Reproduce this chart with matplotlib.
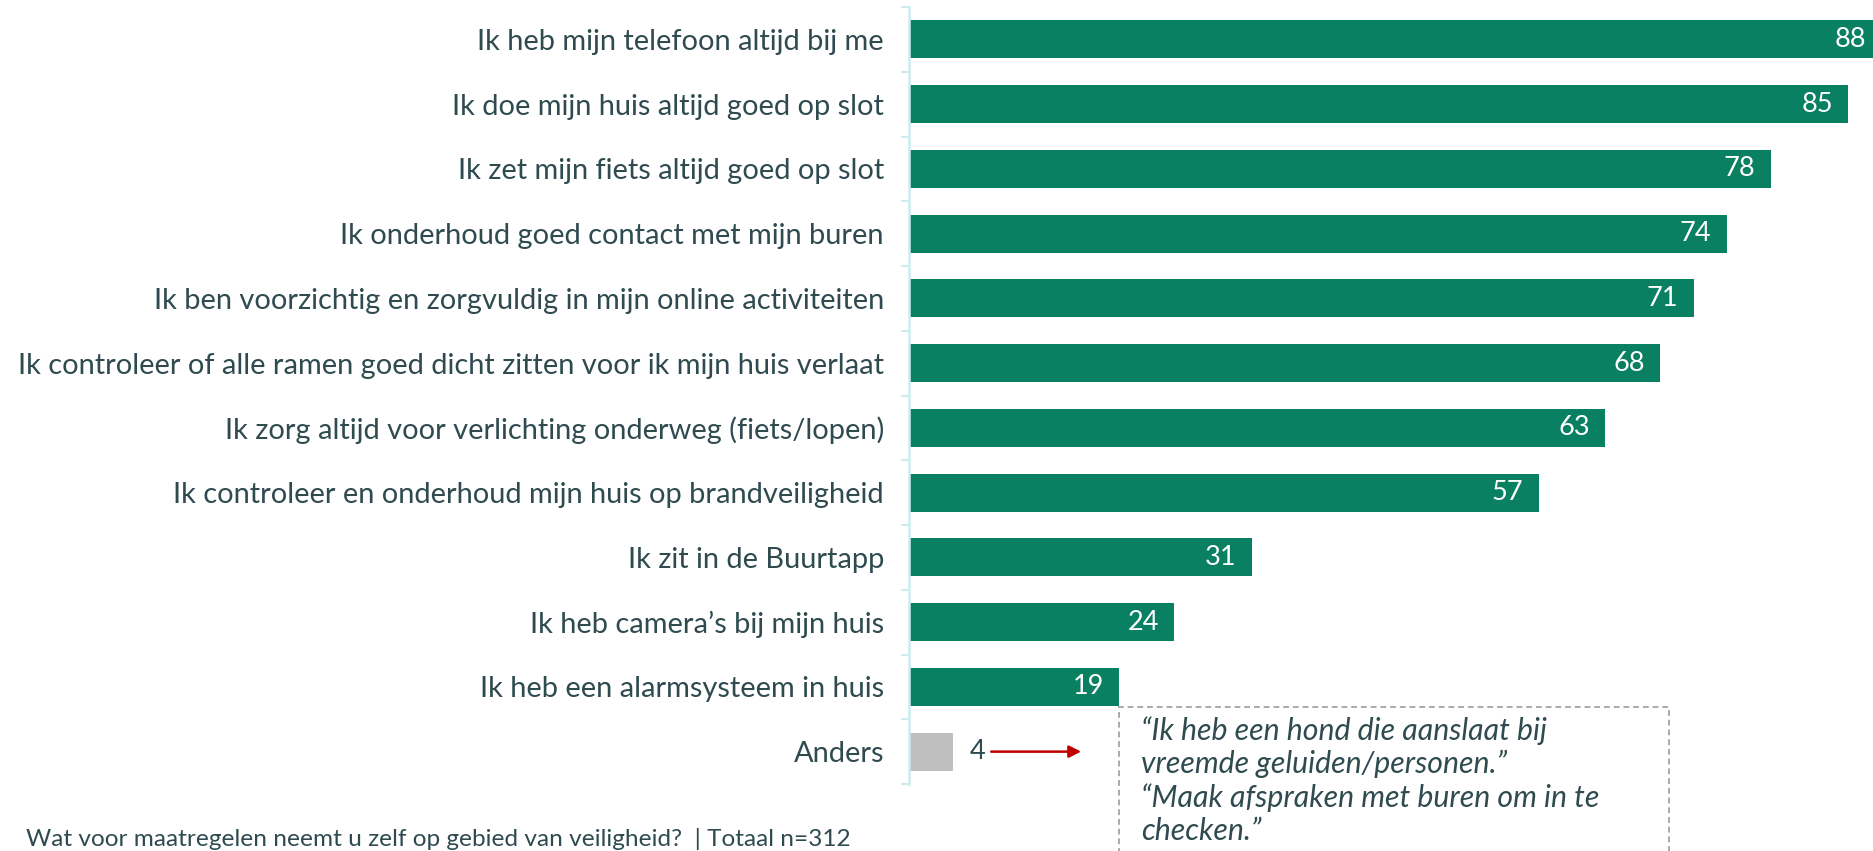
import matplotlib
matplotlib.use("Agg")
import matplotlib.pyplot as plt
from matplotlib.patches import Rectangle

categories = [
    "Ik heb mijn telefoon altijd bij me",
    "Ik doe mijn huis altijd goed op slot",
    "Ik zet mijn fiets altijd goed op slot",
    "Ik onderhoud goed contact met mijn buren",
    "Ik ben voorzichtig en zorgvuldig in mijn online activiteiten",
    "Ik controleer of alle ramen goed dicht zitten voor ik mijn huis verlaat",
    "Ik zorg altijd voor verlichting onderweg (fiets/lopen)",
    "Ik controleer en onderhoud mijn huis op brandveiligheid",
    "Ik zit in de Buurtapp",
    "Ik heb camera\u2019s bij mijn huis",
    "Ik heb een alarmsysteem in huis",
    "Anders",
]
values = [88, 85, 78, 74, 71, 68, 63, 57, 31, 24, 19, 4]
bar_colors = ["#0a8063"] * 11 + ["#bfbfbf"]
quote_text = ("\u201cIk heb een hond die aanslaat bij\n"
              "vreemde geluiden/personen.\u201d\n"
              "\u201cMaak afspraken met buren om in te\n"
              "checken.\u201d")
footnote = "Wat voor maatregelen neemt u zelf op gebied van veiligheid?  | Totaal n=312"

W, H = 1873, 851
plt.rcParams['font.family'] = ['Lato', 'DejaVu Sans']
txt_color = "#2f4b50"
fig = plt.figure(figsize=(W / 100, H / 100), dpi=100)
ax_left, ax_top, ax_bottom = 909, 7, 784
ax = fig.add_axes([ax_left / W, 1 - ax_bottom / H, (W - ax_left) / W, (ax_bottom - ax_top) / H])

px_per_unit = 11.05
xmax = (W - ax_left) / px_per_unit
ypos = list(range(len(categories)))
ax.barh(ypos, values, height=0.59, color=bar_colors, edgecolor="none", zorder=2)
ax.set_xlim(0, xmax)
ax.set_ylim(len(categories) - 0.5, -0.5)

ax.set_yticks(ypos)
ax.set_yticklabels(categories, fontsize=20.9, color=txt_color)
ax.tick_params(axis='y', which='major', length=0, pad=18)
ax.set_yticks([i - 0.5 for i in range(len(categories) + 1)], minor=True)
ax.tick_params(axis='y', which='minor', length=6, width=1.5, color="#cdecef", direction='out')
ax.set_xticks([])
for s in ['top', 'right', 'bottom']:
    ax.spines[s].set_visible(False)
ax.spines['left'].set_color("#cdecef")
ax.spines['left'].set_linewidth(1.8)

for i, v in enumerate(values):
    if i < len(values) - 1:
        ax.annotate(str(v), xy=(v, i), xytext=(-11, 0), textcoords='offset points',
                    ha='right', va='center', color='white', fontsize=19.5,
                    annotation_clip=False, zorder=3)
    else:
        ax.annotate(str(v), xy=(v, i), xytext=(12, 0), textcoords='offset points',
                    ha='left', va='center', color=txt_color, fontsize=19.5,
                    annotation_clip=False, zorder=3)
        ax.annotate("", xy=(v + 128 / px_per_unit, i), xytext=(v + 38 / px_per_unit, i),
                    arrowprops=dict(arrowstyle='-|>', color="#c00000", lw=1.8,
                                    mutation_scale=18, shrinkA=0, shrinkB=0),
                    annotation_clip=False)

box_l, box_r, box_t = 1119, 1669, 707
fig.patches.append(Rectangle((box_l / W, -0.1), (box_r - box_l) / W, (1 - box_t / H) + 0.1,
                             transform=fig.transFigure, fill=False, edgecolor="#aaaaaa",
                             linestyle=(0, (3, 2)), linewidth=1.4, clip_on=False))
fig.text(1141 / W, 1 - 716 / H, quote_text, ha='left', va='top', fontsize=21.8,
         style='italic', color=txt_color, linespacing=1.22)

fig.text(26 / W, 1.5 / H, footnote, ha='left', va='bottom', fontsize=17.6,
         color=txt_color)

fig.savefig("out.png", dpi=100)
